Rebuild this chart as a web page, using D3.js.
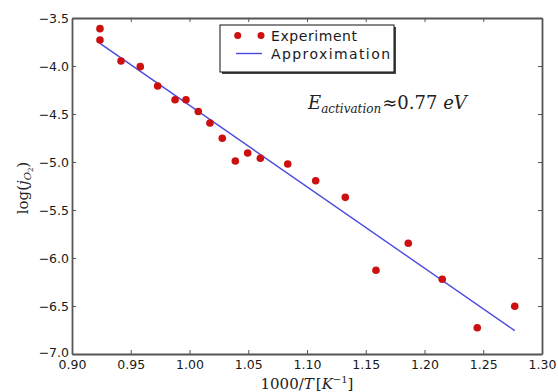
<!DOCTYPE html>
<html><head><meta charset="utf-8">
<script src="https://cdn.jsdelivr.net/npm/d3@7"></script>
<style>body{margin:0;background:#fff}svg{display:block}</style>
</head><body><svg id="c" width="558" height="392"></svg>
<script>
const expX = [0.9238,0.9238,0.9417,0.9581,0.9729,0.9877,0.9970,1.0075,1.0174,1.0279,1.0390,1.0495,1.0603,1.0836,1.1074,1.1326,1.1587,1.1862,1.2151,1.2449,1.2768];
const expY = [-3.611,-3.729,-3.948,-4.007,-4.208,-4.351,-4.351,-4.474,-4.594,-4.753,-4.990,-4.906,-4.961,-5.021,-5.195,-5.368,-6.128,-5.847,-6.222,-6.726,-6.503];
const fitX = [0.9238, 1.2768];
const fitY = [-3.764, -6.757];
const xTicks = [0.90,0.95,1.00,1.05,1.10,1.15,1.20,1.25,1.30];
const yTicks = [-3.5,-4.0,-4.5,-5.0,-5.5,-6.0,-6.5,-7.0];

const svg = d3.select("#c");
const L=72,R=542,T=18,B=354;
const x = d3.scaleLinear().domain([0.90,1.30]).range([L,R]);
const y = d3.scaleLinear().domain([-7.0,-3.5]).range([B,T]);
const fmtY = v => (v<0?"\u2212":"")+Math.abs(v).toFixed(1);

svg.append("path").datum(fitX.map((d,i)=>[d,fitY[i]]))
  .attr("d", d3.line().x(d=>x(d[0])).y(d=>y(d[1])))
  .attr("fill","none").attr("stroke","#4a4ae0").attr("stroke-width",1.4);

svg.selectAll("circle.p").data(expX.map((d,i)=>[d,expY[i]])).join("circle")
  .attr("cx",d=>x(d[0])).attr("cy",d=>y(d[1])).attr("r",3.8).attr("fill","#cc1010");

const axCol="#555";
const gB = svg.append("g").attr("transform",`translate(0,${B})`)
  .call(d3.axisBottom(x).tickValues(xTicks).tickFormat(d=>d.toFixed(2)).tickSizeInner(-4).tickSizeOuter(0).tickPadding(6));
const gT = svg.append("g").attr("transform",`translate(0,${T})`)
  .call(d3.axisTop(x).tickValues(xTicks).tickFormat("").tickSizeInner(-4).tickSizeOuter(0));
const gL = svg.append("g").attr("transform",`translate(${L},0)`)
  .call(d3.axisLeft(y).tickValues(yTicks).tickFormat(fmtY).tickSizeInner(-4).tickSizeOuter(0).tickPadding(3));
const gR = svg.append("g").attr("transform",`translate(${R},0)`)
  .call(d3.axisRight(y).tickValues(yTicks).tickFormat("").tickSizeInner(-4).tickSizeOuter(0));
[gB,gT,gL,gR].forEach(g=>{
  g.select(".domain").attr("stroke",axCol).attr("stroke-width",1.8);
  g.selectAll(".tick line").attr("stroke",axCol).attr("stroke-width",1);
  g.selectAll("text").attr("font-family","DejaVu Sans").attr("font-size",12.5).attr("fill","#1a1a1a");
});
gL.selectAll(".tick").filter(d=>d===-7.0).select("text").attr("dy","0.2em");

const lg = svg.append("g");
lg.append("rect").attr("x",222).attr("y",27).attr("width",174).attr("height",47).attr("fill","#444");
lg.append("rect").attr("x",220).attr("y",25).attr("width",174).attr("height",47).attr("fill","#fff").attr("stroke","#111").attr("stroke-width",1);
lg.selectAll("circle").data([237.7,261]).join("circle").attr("cx",d=>d).attr("cy",35.5).attr("r",3.5).attr("fill","#cc1010");
lg.append("line").attr("x1",236).attr("x2",262).attr("y1",53.5).attr("y2",53.5).attr("stroke","#4a4ae0").attr("stroke-width",1.4);
lg.append("text").attr("x",271).attr("y",40.5).text("Experiment").attr("font-family","DejaVu Sans").attr("font-size",14).attr("fill","#1a1a1a").attr("textLength",86);
lg.append("text").attr("x",271).attr("y",58.5).text("Approximation").attr("font-family","DejaVu Sans").attr("font-size",14).attr("fill","#1a1a1a").attr("textLength",119);

const an = svg.append("text").attr("x",308).attr("y",109).attr("font-family","DejaVu Serif").attr("fill","#222");
an.append("tspan").attr("font-style","italic").attr("font-size",18).text("E");
an.append("tspan").attr("font-style","italic").attr("font-size",12).attr("dy",4).text("activation");
an.append("tspan").attr("font-size",18).attr("dy",-4).attr("dx",1).text("\u22480.77 ");
an.append("tspan").attr("font-size",18).attr("font-style","italic").text("eV");

const xl = svg.append("text").attr("x",307).attr("y",389).attr("text-anchor","middle").attr("font-family","DejaVu Serif").attr("font-size",15).attr("fill","#222");
xl.append("tspan").text("1000/");
xl.append("tspan").attr("font-style","italic").text("T");
xl.append("tspan").attr("dx",2).text("[");
xl.append("tspan").attr("font-style","italic").text("K");
xl.append("tspan").attr("font-size",10).attr("dy",-6).text("\u22121");
xl.append("tspan").attr("dy",6).text("]");

const yl = svg.append("text").attr("transform","translate(28,188) rotate(-90)").attr("text-anchor","middle").attr("font-family","DejaVu Serif").attr("font-size",15).attr("fill","#222");
yl.append("tspan").text("log(");
yl.append("tspan").attr("font-style","italic").text("j");
yl.append("tspan").attr("font-style","italic").attr("font-size",10).attr("dy",3).text("O");
yl.append("tspan").attr("font-size",7).attr("dy",2).text("2");
yl.append("tspan").attr("dy",-5).text(")");
</script></body></html>
